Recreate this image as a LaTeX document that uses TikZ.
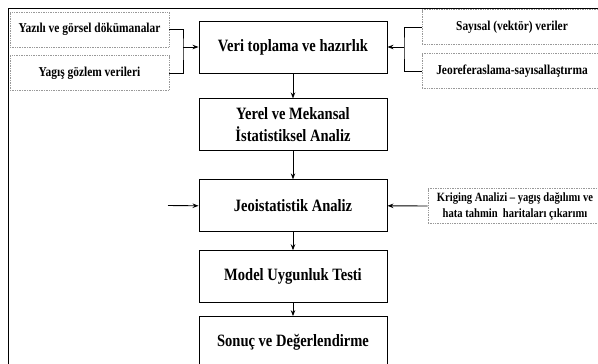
\documentclass[tikz,border=0pt]{standalone}
\usepackage{fontspec}
\setmainfont{Liberation Serif}[FakeStretch=0.84]
\usetikzlibrary{positioning,arrows.meta}

\begin{document}
\begin{tikzpicture}[x=1pt, y=-1pt, >={Stealth[length=6pt,width=4.5pt]},
      stage/.style={rectangle, draw, line width=0.9pt, minimum width=188pt,
                    minimum height=52pt, inner sep=0pt, align=center,
                    font=\fontsize{17.3}{22}\selectfont\bfseries},
      src/.style={rectangle, draw=gray!80, densely dotted, line width=0.7pt,
                  minimum height=35pt, inner sep=0pt, align=center,
                  font=\fontsize{13.6}{16}\selectfont\bfseries},
      link/.style={line width=0.9pt}]
    \useasboundingbox (0,0) rectangle (598,364);
    % frame
    \draw[line width=1.8pt] (8.5,364) -- (8.5,8.5) -- (598,8.5);
    % main column
    \node[stage] (b1) at (293,47) {Veri toplama ve hazırlık};
    \node[stage, below=25pt of b1] (b2) {Yerel ve Mekansal\\İstatistiksel Analiz};
    \node[stage, below=28pt of b2] (b3) {Jeoistatistik Analiz};
    \node[stage, below=18pt of b3] (b4) {Model Uygunluk Testi};
    \node[stage, below=13pt of b4] (b5) {Sonuç ve Değerlendirme};
    % inputs
    \node[src, minimum width=159pt] (s1) at (89.5,29.5) {Yazılı ve görsel dökümanalar};
    \node[src, minimum width=159pt] (s2) at (89.5,73) {Yagış gözlem verileri};
    \node[src, minimum width=180pt] (s3) at (512,27) {Sayısal (vektör) veriler};
    \node[src, minimum width=180pt] (s4) at (512,71) {Jeoreferaslama-sayısallaştırma};
    \node[src, minimum width=174pt, font=\fontsize{12.6}{16}\selectfont\bfseries]
      (s5) at (515,206) {Kriging Analizi -- yagış dağılımı ve\\hata tahmin\ \ haritaları çıkarımı};
    \coordinate (jl) at (183,47);
    \coordinate (jr) at (404,47);
    \coordinate (free) at (168,205.5);
    % connectors
    \draw[link] (s1.east) -| (jl) |- (s2.east);
    \draw[link] (s3.west) -| (jr) |- (s4.west);
    \draw[link, ->] (jl) -- (b1.west);
    \draw[link, ->] (jr) -- (b1.east);
    \draw[link, ->] (b1) -- (b2);
    \draw[link, ->] (b2) -- (b3);
    \draw[link, ->] (b3) -- (b4);
    \draw[link, ->] (b4) -- (b5);
    \draw[link, ->] (free) -- (b3.west);
    \draw[link, ->] (s5.west) -- (b3.east);
  \end{tikzpicture}
\end{document}
